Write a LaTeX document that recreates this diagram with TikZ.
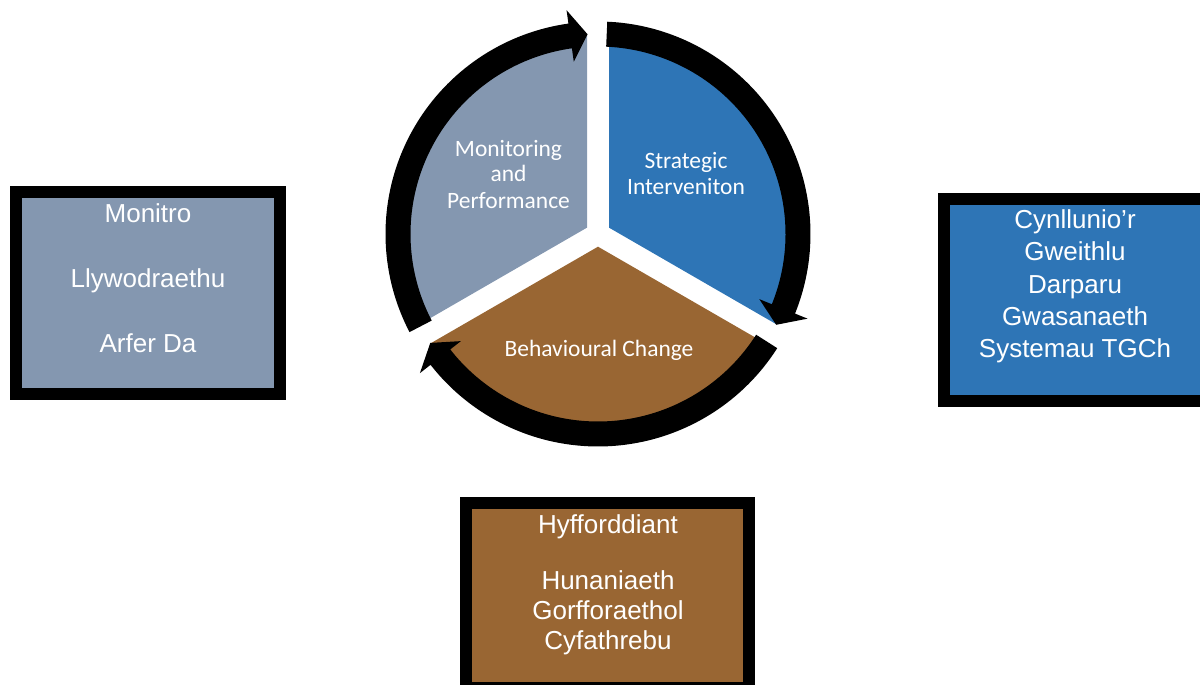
\documentclass[tikz,border=0pt]{standalone}
\usepackage{fontspec}
\setmainfont{Liberation Sans}
\newfontfamily\calib{Carlito}
\usetikzlibrary{calc}
\definecolor{slgray}{RGB}{132,151,176}
\definecolor{slblue}{RGB}{46,117,182}
\definecolor{slbrown}{RGB}{153,102,51}
\begin{document}
\begin{tikzpicture}[x=0.75pt,y=0.75pt,
  boxtext/.style={text=white,font=\fontsize{19.5}{23}\selectfont,inner sep=0pt,anchor=base},
  pietext/.style={text=white,font=\calib\fontsize{17.6}{20}\selectfont,inner sep=0pt,anchor=base},
  listbox/.style={draw=black,line width=9pt,inner sep=0pt}]
\useasboundingbox (0,0) rectangle (1200,685);
\clip (0,0) rectangle (1200,685);
\coordinate (C) at (598,451);
% pie slices
\fill[slblue]  ($(C)+(30:12.7)$)  -- +(90:193)  arc[start angle=90,end angle=-30,radius=193] -- cycle;
\fill[slgray]  ($(C)+(150:12.7)$) -- +(90:193)  arc[start angle=90,end angle=210,radius=193] -- cycle;
\fill[slbrown] ($(C)+(270:12.7)$) -- +(210:193) arc[start angle=210,end angle=330,radius=193] -- cycle;
% circular arrows
\foreach \t in {207.5,87.5,-32.5}{
  \pgfmathsetmacro\b{\t-109.5}
  \pgfmathsetmacro\p{\t-114.5}
  \fill[black] ($(C)+(\t:212.5)$) arc[start angle=\t,end angle=\b,radius=212.5]
    -- ($(C)+(\b:226)$) -- ($(C)+(\p:200)$) -- ($(C)+(\b:174)$)
    -- ($(C)+(\b:187.5)$) arc[start angle=\b,end angle=\t,radius=187.5] -- cycle;
}
% pie labels
\node[pietext] (mon1) at (508.5,528) {Monitoring};
\node[pietext] (mon2) at (508.5,503) {and};
\node[pietext] (mon3) at (508.5,476) {Performance};
\node[pietext] (str1) at (686,516) {Strategic};
\node[pietext] (str2) at (686,490) {Interveniton};
\node[pietext] (beh)  at (599,328) {Behavioural Change};
% boxes
\node[listbox,fill=slgray,minimum width=198pt,minimum height=151.5pt] (lbox) at (148,392) {};
\node[listbox,fill=slblue,minimum width=198pt,minimum height=151.5pt] (rbox) at (1075.5,385.25) {};
\node[listbox,fill=slbrown,minimum width=212.6pt,minimum height=138.75pt] (bbox) at (607.75,89.5) {};
% box texts
\node[boxtext] (l1) at (148,462) {Monitro};
\node[boxtext] (l2) at (148,397) {Llywodraethu};
\node[boxtext] (l3) at (148,332) {Arfer Da};
\node[boxtext] (r1) at (1075,456) {Cynllunio’r};
\node[boxtext] (r2) at (1075,424) {Gweithlu};
\node[boxtext] (r3) at (1075,391) {Darparu};
\node[boxtext] (r4) at (1075,359) {Gwasanaeth};
\node[boxtext] (r5) at (1075,327) {Systemau TGCh};
\node[boxtext] (b1) at (608,151) {Hyfforddiant};
\node[boxtext] (b2) at (608,95) {Hunaniaeth};
\node[boxtext] (b3) at (608,65) {Gorfforaethol};
\node[boxtext] (b4) at (608,35) {Cyfathrebu};
\end{tikzpicture}
\end{document}
